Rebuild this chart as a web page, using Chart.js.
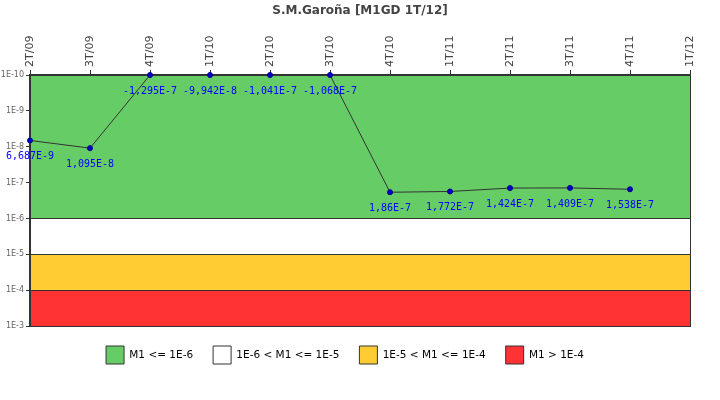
<!DOCTYPE html>
<html>
<head>
<meta charset="utf-8">
<script src="https://cdn.jsdelivr.net/npm/chart.js@4/dist/chart.umd.min.js"></script>
<style>
  html, body { margin: 0; padding: 0; background: #fff; }
  #wrap { width: 720px; height: 400px; }
</style>
</head>
<body>
<div id="wrap"><canvas id="chart"></canvas></div>
<script>
// Trimestres
const quarters = ['2T/09', '3T/09', '4T/09', '1T/10', '2T/10', '3T/10', '4T/10', '1T/11', '2T/11', '3T/11', '4T/11', '1T/12'];
// Valores M1 (los negativos se dibujan en el borde superior)
const m1Values = [6.687e-9, 1.095e-8, -1.295e-7, -9.942e-8, -1.041e-7, -1.068e-7, 1.86e-7, 1.772e-7, 1.424e-7, 1.409e-7, 1.538e-7, null];
// Marcas del eje Y
const yTicks = [1e-10, 1e-9, 1e-8, 1e-7, 1e-6, 1e-5, 1e-4, 1e-3];
// Bandas de fondo
const bandLabels = ['M1 <= 1E-6', '1E-6 < M1 <= 1E-5', '1E-5 < M1 <= 1E-4', 'M1 > 1E-4'];
const bandFrom = [1e-10, 1e-6, 1e-5, 1e-4];
const bandTo = [1e-6, 1e-5, 1e-4, 1e-3];
const bandColors = ['#66CC66', '#FFFFFF', '#FFCC33', '#FF3333'];

const TITLE = 'S.M.Garoña [M1GD 1T/12]';
const Y_MIN = yTicks[0];
const Y_MAX = yTicks[yTicks.length - 1];

const plotted = m1Values.map(v => v === null ? null : (v > 0 ? v : Y_MIN));

function formatM1(v) {
    return v.toExponential().replace('.', ',').replace('e', 'E').replace('+', '');
}

// Bandas de color, etiquetas de valores y título
const bandsPlugin = {
    id: 'bands',
    beforeDatasetsDraw(chart) {
        const { ctx, chartArea: a, scales: { y } } = chart;
        ctx.save();
        bandFrom.forEach((from, i) => {
            const y1 = y.getPixelForValue(from);
            const y2 = y.getPixelForValue(bandTo[i]);
            ctx.fillStyle = bandColors[i];
            ctx.fillRect(a.left, Math.min(y1, y2), a.right - a.left, Math.abs(y2 - y1));
        });
        ctx.strokeStyle = '#333';
        ctx.lineWidth = 1;
        bandFrom.slice(1).forEach(v => {
            const py = Math.round(y.getPixelForValue(v)) + 0.5;
            ctx.beginPath();
            ctx.moveTo(a.left, py);
            ctx.lineTo(a.right, py);
            ctx.stroke();
        });
        ctx.strokeRect(a.left + 0.5, a.top + 0.5, a.right - a.left, a.bottom - a.top);
        ctx.restore();
    },
    afterDatasetsDraw(chart) {
        const { ctx } = chart;
        const meta = chart.getDatasetMeta(0);
        ctx.save();
        ctx.font = '10px "DejaVu Sans Mono"';
        ctx.fillStyle = '#0000FF';
        ctx.textAlign = 'center';
        ctx.textBaseline = 'middle';
        meta.data.forEach((pt, i) => {
            const v = m1Values[i];
            if (v === null) return;
            ctx.fillText(formatM1(v), pt.x, pt.y + 16);
        });
        // título centrado en todo el lienzo
        ctx.font = 'bold 12px "DejaVu Sans"';
        ctx.fillStyle = '#444';
        ctx.fillText(TITLE, chart.width / 2, 11);
        ctx.restore();
    }
};

new Chart(document.getElementById('chart'), {
    type: 'line',
    data: {
        labels: quarters,
        datasets: [{
            data: plotted,
            borderColor: '#333',
            borderWidth: 1,
            pointRadius: 2.5,
            pointBackgroundColor: '#0000CC',
            pointBorderColor: '#000088',
            pointBorderWidth: 1,
            tension: 0,
            clip: false
        }]
    },
    options: {
        responsive: true,
        maintainAspectRatio: false,
        animation: false,
        events: [],
        layout: { padding: { left: 0, right: 30, top: 25, bottom: 26 } },
        scales: {
            x: {
                position: 'top',
                offset: false,
                grid: { drawOnChartArea: false, drawTicks: true, tickLength: 5, color: '#333' },
                border: { display: true, color: '#333', width: 2 },
                ticks: {
                    minRotation: 90,
                    maxRotation: 90,
                    padding: 3,
                    labelOffset: 13,
                    color: '#444',
                    font: { family: 'DejaVu Sans', size: 11 }
                },
                afterFit(scale) { scale.height = 50; }
            },
            y: {
                type: 'logarithmic',
                reverse: true,
                min: Y_MIN,
                max: Y_MAX,
                grid: { drawOnChartArea: false, drawTicks: true, tickLength: 4, color: '#333' },
                border: { display: true, color: '#333', width: 2 },
                afterBuildTicks(scale) {
                    scale.ticks = yTicks.map(v => ({ value: v }));
                },
                ticks: {
                    padding: 2,
                    color: '#666',
                    font: { family: 'DejaVu Sans', size: 8 },
                    callback: v => '1E' + Math.round(Math.log10(v))
                },
                afterFit(scale) { scale.width = 30; }
            }
        },
        plugins: {
            title: { display: false },
            legend: {
                position: 'bottom',
                onClick: null,
                labels: {
                    boxWidth: 18,
                    boxHeight: 18,
                    padding: 20,
                    color: '#444',
                    font: { family: 'DejaVu Sans', size: 10.5 },
                    generateLabels: () => bandLabels.map((text, i) => ({
                        text,
                        fillStyle: bandColors[i],
                        strokeStyle: '#333',
                        lineWidth: 1,
                        hidden: false,
                        datasetIndex: 0
                    }))
                }
            },
            tooltip: { enabled: false }
        }
    },
    plugins: [bandsPlugin]
});
</script>
</body>
</html>
